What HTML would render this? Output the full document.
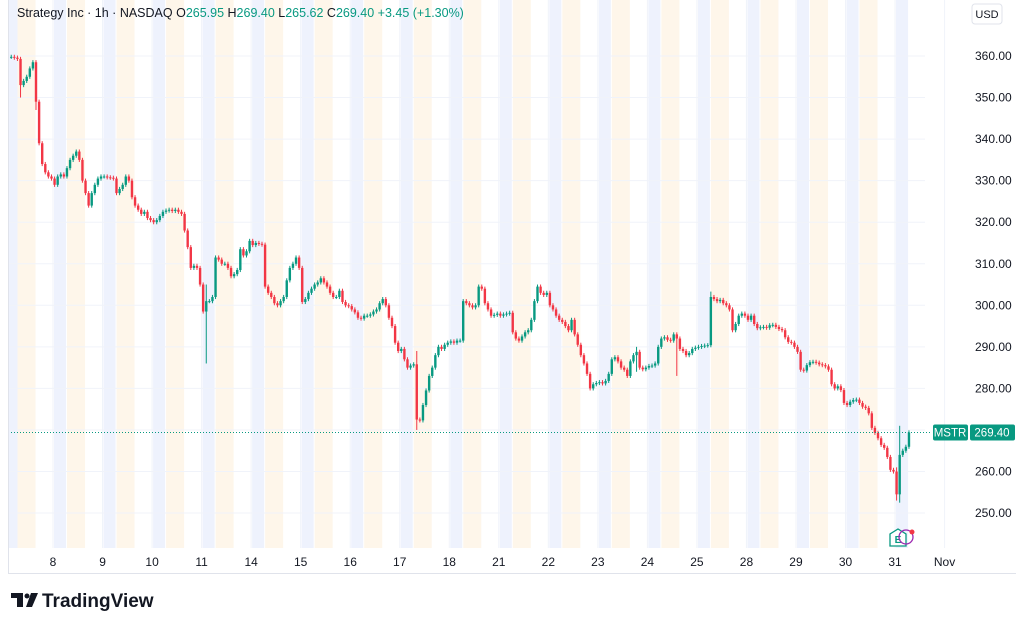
<!DOCTYPE html>
<html><head><meta charset="utf-8"><style>
body{margin:0;width:1024px;height:627px;background:#fff;overflow:hidden;font-family:"Liberation Sans",sans-serif}
svg{position:absolute;left:0;top:0}
</style></head><body>
<svg id="c" width="1024" height="627" xmlns="http://www.w3.org/2000/svg"></svg>
<script>
const days=["7","8","9","10","11","14","15","16","17","18","21","22","23","24","25","28","29","30","31"];
const dayLabels=["8","9","10","11","14","15","16","17","18","21","22","23","24","25","28","29","30","31","Nov"];
const priceTicks=[360,350,340,330,320,310,300,290,280,270,260,250];
const closes=[
null,null,359.8,359.6,359.3,353,354,355,357,358.5,349,339,334,332,331,330.5,
329,331,331.5,331,333,335,336,337,335,330,327,324,327,329,330.5,331,
331,330.8,330.7,330.5,327,328,329,331,330,326,324,323,322,322.5,321,320.5,
320,320.5,321.5,322.5,322.8,323,322.7,323,322.5,322,318,314,309,309.5,309,305,
298.5,301,301,302,311.5,311,310,310,309,307,307.5,308.5,313.5,312,313,315.5,
314.5,315,314.8,314.6,304.5,303,302,300.5,300,301,302,306,309,310,311.5,309,
300.8,301.5,303,304,305,305.5,306.5,305.5,304.5,303,302,302,303.5,300.8,300,299.8,
299,298.3,297,296.8,297.5,297.5,297.8,298.5,299,300.5,301.5,300,297,295,291,289,
289.5,287,285,285.5,285.8,272.5,272.3,276,279.5,283,285,288,290,289.5,290.5,291,
291.3,291,291.5,291.5,301,300.5,300,299.5,300,304.5,304,300.5,299,297.5,297.7,298,
297.5,297.8,298,298.2,293.5,292,291.5,292.5,293.5,294,296.5,301,304.5,303,302.5,303,
300,299,297.5,296.5,296,295,294,296.5,293,290.5,288,286,283.5,280,281,281.3,
281.5,281.2,281.8,283.5,287,287.5,286.5,285,284.5,283,286.5,288,288.8,285,284.6,285,
285.4,285.5,286,290,292,292.3,291.7,291.5,293,292,289.5,289,288,288.5,289.5,289.8,
290,290.2,290.3,290.4,302,301.5,301,301.3,300.5,300,299,294,295.5,297.5,298,297.5,
296.5,297.5,295.5,294.5,294.7,294.8,294.6,295.2,295.3,294.8,294.3,294,292.3,291.2,291,290,
288.8,284.5,284.3,285.6,286.3,286.4,286.2,285.8,285.6,285.3,284.5,281,280,280.5,279.6,276.5,
276,276.8,277.2,277.3,276.5,275.6,275.3,274,270.5,269.3,268,266.4,265.7,263.5,260.4,260,
254.5,264,265,265.95,269.4];
const spikeIdx=[5,10,65,133,288,289,228,204,217];
const spikeHigh=[359,358.8,305,289,261,271,303.3,290,287.5];
const spikeLow=[350,347,286,270,253,252.5,301,284,283];

const S=document.getElementById('c'),NS='http://www.w3.org/2000/svg';
function el(t,a,p){const e=document.createElementNS(NS,t);for(const k in a)e.setAttribute(k,a[k]);(p||S).appendChild(e);return e;}
const DAYW=49.53,X0=3.5,PER=16,STEP=DAYW/PER;
function xDay(d){return X0+d*DAYW;}
function xBar(i){return X0+(i+0.5)*STEP;}
function yP(v){return 56+(360-v)*4.155;}
const PR=925,PB=548;

days.forEach((d,k)=>{const s=xDay(k);
 const b=el('rect',{x:Math.max(8,s+1),y:0,width:12,height:PB,fill:'#eef2fd'});
 
 
 if(k<days.length-1){
 const o=el('rect',{x:s+14,y:0,width:18,height:PB,fill:'#fef6ea'});
 
 
 }
});
el('rect',{x:0,y:0,width:8,height:PB,fill:'#fff'});
priceTicks.forEach(v=>{const y=yP(v);
 const g=el('line',{x1:8,x2:PR,y1:y,y2:y,stroke:'#f0f3fa','stroke-width':1});
 
 
 const t=el('text',{x:975,y:y+4,'font-size':12,fill:'#131722'});t.textContent=v.toFixed(2);
 
 
});
dayLabels.forEach((l,k)=>{const x=xDay(k+1);
 const g=el('line',{x1:x,x2:x,y1:0,y2:PB,stroke:'#f0f3fa','stroke-width':1});
 
 
 const t=el('text',{x:x,y:566,'font-size':12,fill:'#131722','text-anchor':'middle'});t.textContent=l;
 
 
});
for(let i=0;i<closes.length;i++){
 const c=closes[i];if(c==null)continue;
 const o=(i>0&&closes[i-1]!=null)?closes[i-1]:c;
 let h=Math.max(o,c)+0.5,l=Math.min(o,c)-0.5;
 const si=spikeIdx.indexOf(i);if(si>=0){h=Math.max(h,spikeHigh[si]);l=Math.min(l,spikeLow[si]);}
 const col=c>=o?'#089981':'#f23645';const x=xBar(i);
 const w=el('line',{x1:x,x2:x,y1:yP(h),y2:yP(l),stroke:col,'stroke-width':1});
 
 
 const yt=yP(Math.max(o,c)),yb=yP(Math.min(o,c));
 const b=el('rect',{x:x-1.2,y:yt,width:2.4,height:Math.max(1,yb-yt),fill:col});
 
 
}
const last=closes[closes.length-1],yl=yP(last);
const pl=el('line',{x1:8,x2:930,y1:yl,y2:yl,stroke:'#089981','stroke-width':1,'stroke-dasharray':'1,2'});


const r1=el('rect',{x:933,y:yl-8,width:35,height:16,rx:2,fill:'#089981'});


const t1=el('text',{x:950,y:yl+4,'font-size':11.5,fill:'#fff','text-anchor':'middle'});t1.textContent='MSTR';
const r2=el('rect',{x:970,y:yl-8,width:45,height:16,rx:2,fill:'#089981'});


const t2=el('text',{x:992,y:yl+4,'font-size':11.5,fill:'#fff','text-anchor':'middle'});t2.textContent=last.toFixed(2);
el('line',{x1:8,x2:1016,y1:573.5,y2:573.5,stroke:'#e0e3eb'});
el('line',{x1:8.5,x2:8.5,y1:0,y2:573,stroke:'#e0e3eb'});
const eb=el('g',{});
el('path',{d:'M890 546 L890 534 L898 529 L906 534 L906 546 Z',fill:'#fff',stroke:'#089981','stroke-width':1.3},eb);
const et=el('text',{x:898,y:543,'font-size':10,fill:'#089981','text-anchor':'middle','font-weight':'bold'},eb);et.textContent='E';
el('circle',{cx:906,cy:537,r:7,fill:'none',stroke:'#9c27b0','stroke-width':1.3},eb);
el('circle',{cx:912,cy:532,r:2.5,fill:'#f23645'},eb);
const ub=el('rect',{x:972,y:4,width:30,height:20,rx:3,fill:'#fff',stroke:'#e0e3eb'});


const ut=el('text',{x:987,y:18,'font-size':11,fill:'#131722','text-anchor':'middle'});ut.textContent='USD';
const tt=el('text',{x:17,y:17,'font-size':12.5,fill:'#131722'});
tt.setAttribute('xml:space','preserve');
tt.innerHTML='Strategy Inc · 1h · NASDAQ  O<tspan fill="#089981">265.95</tspan>  H<tspan fill="#089981">269.40</tspan>  L<tspan fill="#089981">265.62</tspan>  C<tspan fill="#089981">269.40</tspan>  <tspan fill="#089981">+3.45 (+1.30%)</tspan>';
const lg=el('g',{});
el('path',{d:'M11 593 h12 v14 h-6 v-9 h-6 z',fill:'#131722'},lg);
el('circle',{cx:27,cy:596,r:2.5,fill:'#131722'},lg);
el('path',{d:'M31 593 h7 l-6 14 h-6 z',fill:'#131722'},lg);
const lt=el('text',{x:42,y:607,'font-size':19,'font-weight':'bold',fill:'#131722'},lg);lt.textContent='TradingView';
</script>
</body></html>
